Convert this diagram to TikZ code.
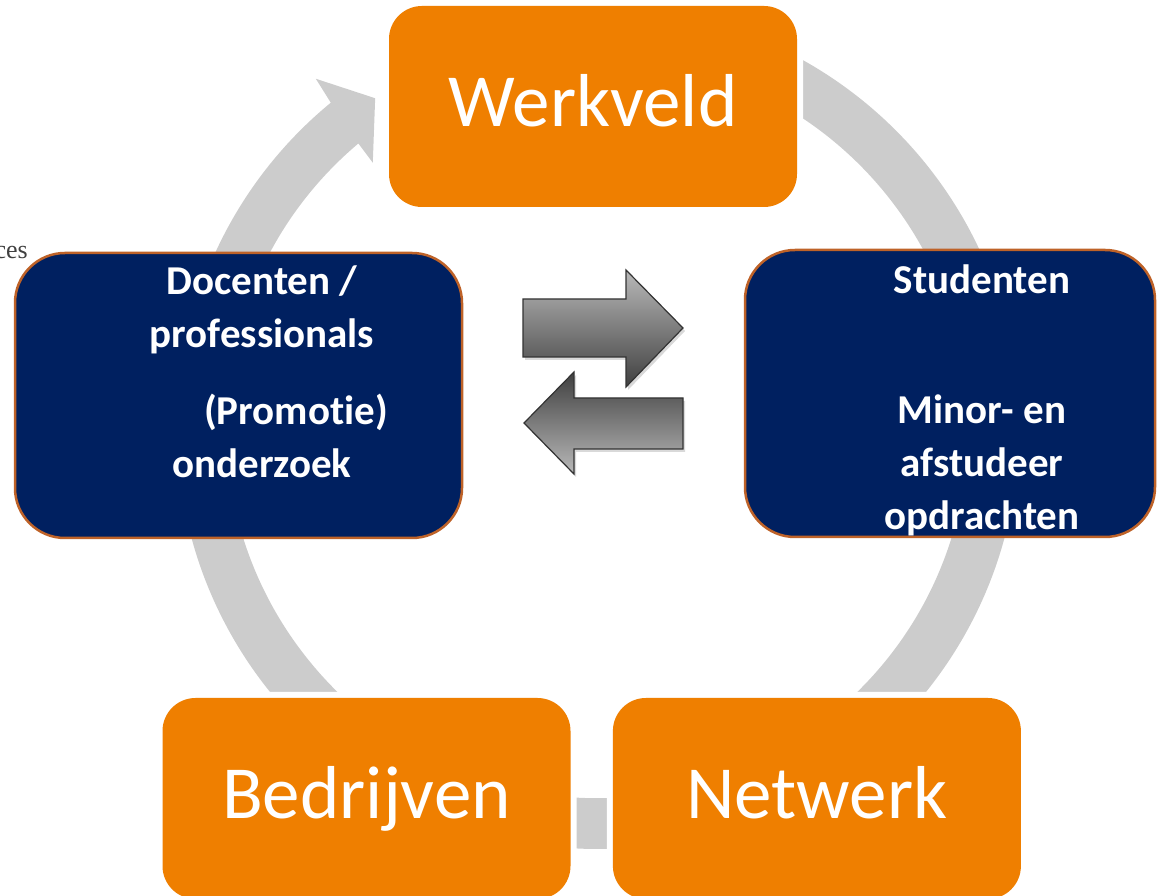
\documentclass[tikz,border=0pt]{standalone}
\usepackage{fontspec}
\setmainfont{Carlito}[Ligatures=NoCommon]
\newfontfamily\logofont{Liberation Serif}
\usetikzlibrary{positioning, calc, shadows}

\definecolor{werkoranje}{RGB}{239,127,0}
\definecolor{donkerblauw}{RGB}{0,32,96}
\definecolor{randbruin}{RGB}{190,98,40}
\definecolor{ringgrijs}{RGB}{204,204,204}

\begin{document}
\begin{tikzpicture}[
		x=1pt, y=1pt,
		% Orange boxes, with a white halo over the ring
		oranjebox/.style={rectangle, rounded corners=33pt, fill=werkoranje,
			preaction={draw=white, line width=12pt},
			minimum width=408pt, minimum height=201pt, inner sep=0pt,
			text=white, font=\fontsize{75}{90}\selectfont,
			text height=41pt, text depth=0pt},
		% Dark blue boxes
		blauwbox/.style={rectangle, rounded corners=50pt, fill=donkerblauw,
			draw=randbruin, line width=2.5pt, inner sep=0pt},
		blauwtekst/.style={text=white, align=center, inner sep=0pt,
			font=\fontsize{41}{53}\selectfont\bfseries},
		% Shaded exchange arrows
		wissel/.style={draw=black!80, line width=1.2pt, line join=miter,
			drop shadow={opacity=0.3, shadow xshift=2pt, shadow yshift=-3pt}}
		]
		
		\useasboundingbox (0,0) rectangle (1157,896);
		
		% === RING ===
		
		\coordinate (ringmidden) at (598,468);
		\fill[ringgrijs] ($(ringmidden)+(90:421)$)
		arc[start angle=90, end angle=-230.6, radius=421]
		-- ($(ringmidden)+(128.94:449)$) -- ($(ringmidden)+(124.05:398)$)
		-- ($(ringmidden)+(130.33:348)$) -- ($(ringmidden)+(130.1:372)$)
		arc[start angle=-229.9, end angle=90, radius=371] -- cycle;
		
		% === ORANGE BOXES ===
		
		\node[oranjebox] (werkveld) at (593,789.5) {Werkveld};
		\node[oranjebox] (bedrijven) at (366.5,97.5) {Bedrijven};
		\node[oranjebox, right=42pt of bedrijven] (netwerk) {Netwerk};
		
		% === BLUE BOXES ===
		
		\node[blauwbox, minimum width=447pt, minimum height=285pt] (docenten) at (238.5,500.5) {};
		\node[blauwbox, minimum width=410pt, minimum height=287pt] (studenten) at (950,502.5) {};
		
		% base = baseline of the last line
		\node[blauwtekst, anchor=base] (docententekst) at (262,418)
		{Docenten /\\professionals\\[24pt]\hspace*{68pt}(Promotie)\\onderzoek};
		\node[blauwtekst, anchor=base] (studententekst) at (982,366)
		{Studenten\\[77pt]Minor- en\\afstudeer\\opdrachten};
		
		% left-over text at the edge
		\node[anchor=base east, inner sep=0pt, text=black!75,
		font=\logofont\fontsize{26}{30}\selectfont] (sciences) at (28,637) {ces};
		
		% === EXCHANGE ARROWS ===
		
		\shadedraw[wissel, top color=gray!55, bottom color=black!75]
		(523,597) -- (626,597) -- (626,626) -- (683,568)
		-- (626,509) -- (626,539) -- (523,539) -- cycle;
		\shadedraw[wissel, top color=black!75, bottom color=gray!55]
		(683,498) -- (574,498) -- (574,524) -- (524,473)
		-- (574,422) -- (574,447) -- (683,447) -- cycle;
		
	\end{tikzpicture}
\end{document}
